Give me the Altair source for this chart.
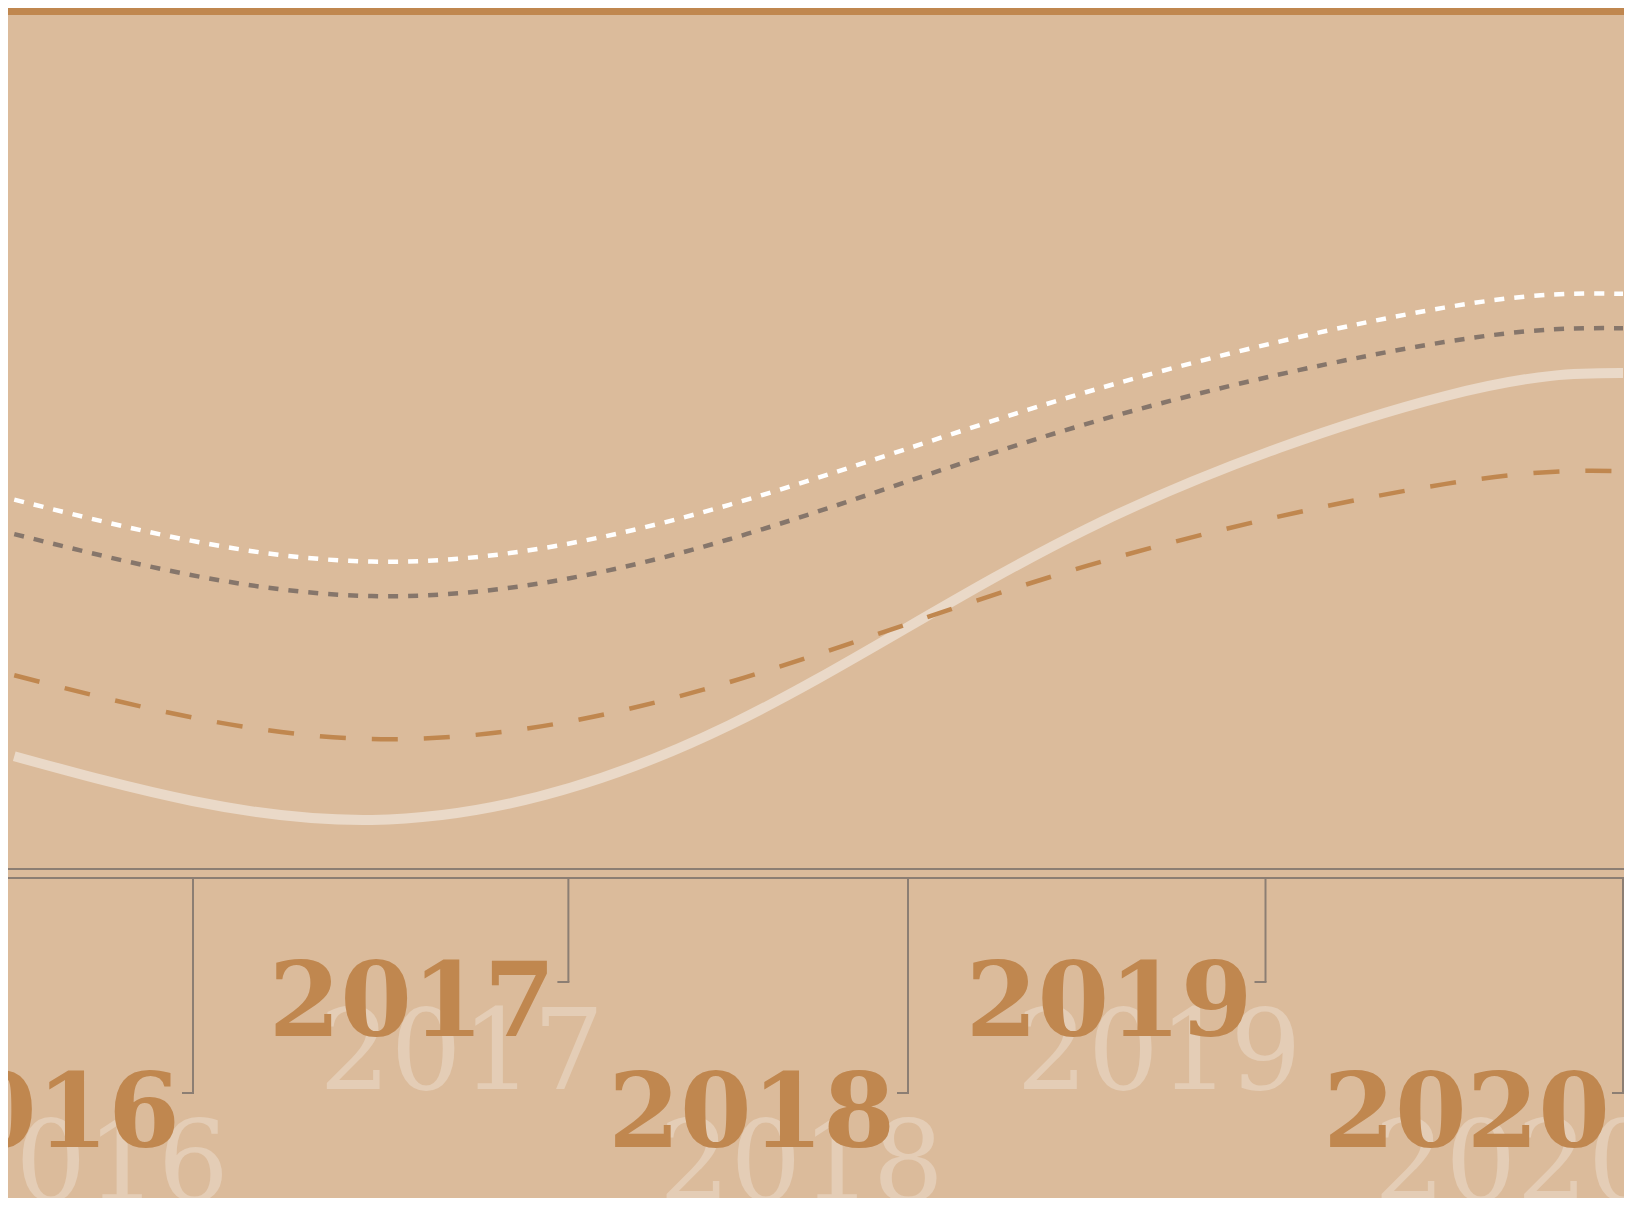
import altair as alt
import pandas as pd

# ---------------- data ----------------
years_x = [2015.5, 2016.5, 2017.5, 2018.5, 2019.5, 2020.0]
series_names = ["Series A", "Series B", "Series C", "Series D"]
series_a = [13.1, 5.7, 16.7, 39.5, 54.9, 57.6]     # light solid
series_b = [22.5, 15.1, 21.7, 35.2, 44.7, 46.2]    # orange dashed
series_c = [38.9, 31.7, 38.3, 51.7, 61.2, 62.8]    # grey dotted
series_d = [42.9, 35.7, 42.3, 55.4, 65.2, 66.8]    # white dotted

tick_years = [2016.0, 2017.05, 2018.0, 2019.0, 2020.0]
tick_labels = ["2016", "2017", "2018", "2019", "2020"]
tick_rows = ["low", "high", "low", "high", "low"]

# ---------------- styling ----------------
W, H = 1616, 1190
PLOT_H = 861
BG = "#dbbb9b"
ORANGE = "#c0874f"
AXIS = "#8c7e73"
SHADOW = "#e4cdb6"

rows = []
for name, vals in zip(series_names, [series_a, series_b, series_c, series_d]):
    for x, v in zip(years_x, vals):
        rows.append({"series": name, "year": x, "value": v})
lines_df = pd.DataFrame(rows)
ticks_df = pd.DataFrame({"year": tick_years, "label": tick_labels, "row": tick_rows})
one = pd.DataFrame({"a": [0]})

x_scale = alt.Scale(domain=[2015.4825, 2020.0028], nice=False, zero=False)
y_scale = alt.Scale(domain=[0, 100], nice=False, zero=True)

styles = {
    "Series A": dict(color="#ead9c8", strokeWidth=10),
    "Series B": dict(color=ORANGE, strokeWidth=4.5, strokeDash=[26, 26]),
    "Series C": dict(color="#86766b", strokeWidth=4.5, strokeDash=[10, 10]),
    "Series D": dict(color="#ffffff", strokeWidth=4.5, strokeDash=[10, 10]),
}

layers = []

# top bar
layers.append(
    alt.Chart(one).mark_rect(color=ORANGE).encode(
        x=alt.value(0), x2=alt.value(W), y=alt.value(0), y2=alt.value(7)
    )
)

# lines
for name in series_names:
    layers.append(
        alt.Chart(lines_df)
        .transform_filter(alt.datum.series == name)
        .mark_line(interpolate="natural", strokeCap="butt", **styles[name])
        .encode(
            x=alt.X("year:Q", scale=x_scale, axis=None),
            y=alt.Y("value:Q", scale=y_scale, axis=None),
        )
    )

# axis double line
layers.append(
    alt.Chart(one).mark_rule(color=AXIS, strokeWidth=2).encode(
        x=alt.value(0), x2=alt.value(W), y=alt.value(PLOT_H)
    )
)
layers.append(
    alt.Chart(one).mark_rule(color=AXIS, strokeWidth=2).encode(
        x=alt.value(0), x2=alt.value(W), y=alt.value(870)
    )
)

# bracket ticks
for row, bottom in [("low", 1085), ("high", 974)]:
    base = alt.Chart(ticks_df).transform_filter(alt.datum.row == row)
    layers.append(
        base.mark_rule(color=AXIS, strokeWidth=2).encode(
            x=alt.X("year:Q", scale=x_scale, axis=None),
            y=alt.value(870), y2=alt.value(bottom),
        )
    )
    layers.append(
        base.mark_rule(color=AXIS, strokeWidth=2, xOffset=-11, x2Offset=1).encode(
            x=alt.X("year:Q", scale=x_scale, axis=None),
            x2="year:Q",
            y=alt.value(bottom),
        )
    )

# labels: shadow then main
for row, base_y in [("low", 1139), ("high", 1028)]:
    base = alt.Chart(ticks_df).transform_filter(alt.datum.row == row)
    layers.append(
        base.mark_text(
            font="DejaVu Serif", fontSize=112, fontWeight="normal", color=SHADOW,
            align="right", baseline="alphabetic", dx=36,
        ).encode(
            x=alt.X("year:Q", scale=x_scale, axis=None),
            y=alt.value(base_y + 53),
            text="label:N",
        )
    )
for row, base_y in [("low", 1139), ("high", 1028)]:
    base = alt.Chart(ticks_df).transform_filter(alt.datum.row == row)
    layers.append(
        base.mark_text(
            font="DejaVu Serif", fontSize=103, fontWeight="bold", color=ORANGE,
            align="right", baseline="alphabetic", dx=-13,
        ).encode(
            x=alt.X("year:Q", scale=x_scale, axis=None),
            y=alt.value(base_y),
            text="label:N",
        )
    )

chart = (
    alt.layer(*layers)
    .properties(
        width=W,
        height=PLOT_H,
        padding={"left": 0, "top": 0, "right": 0, "bottom": H - PLOT_H},
        autosize=alt.AutoSizeParams(type="none"),
        background=BG,
    )
    .configure_view(stroke=None)
)

chart.save("out.html", embed_options={"renderer": "svg", "actions": False})
